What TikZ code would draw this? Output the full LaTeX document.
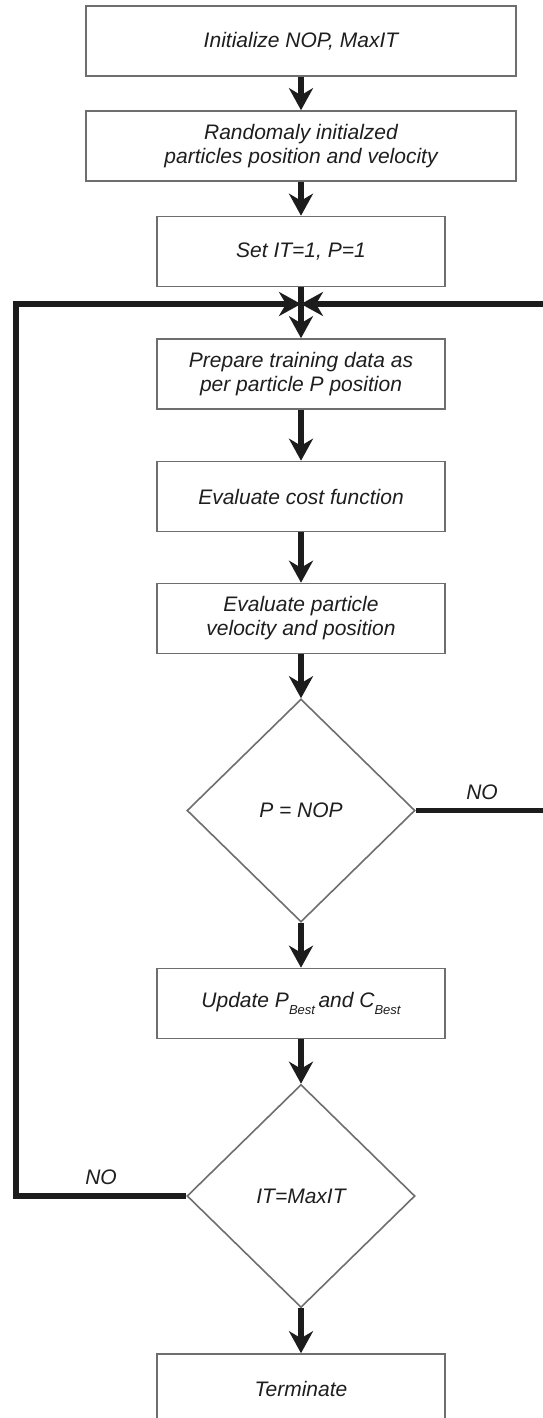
\documentclass[tikz,border=0pt]{standalone}
\usepackage{fontspec}
\setmainfont{Liberation Sans}
\usetikzlibrary{arrows.meta,shapes.geometric}
\definecolor{txt}{HTML}{1E1E1E}
\definecolor{frame}{HTML}{6E6E6E}
\definecolor{flow}{HTML}{1C1C1C}
\tikzset{
  basebox/.style={draw=frame, line width=1.6pt, fill=white, minimum height=70pt,
    align=center, inner sep=0pt, text=txt, font=\fontsize{21}{24}\selectfont\itshape},
  widebox/.style={basebox, minimum width=430pt},
  narrowbox/.style={basebox, minimum width=288pt},
  decision/.style={diamond, draw=frame, line width=1.6pt, fill=white, inner sep=0pt,
    minimum width=228pt, minimum height=223pt, text=txt, font=\fontsize{21}{24}\selectfont\itshape},
  flowarrow/.style={draw=flow, line width=6pt, -{Stealth[length=22pt, width=24pt, inset=7pt]}},
  loopline/.style={draw=flow, line width=5.5pt},
  nolabel/.style={text=txt, font=\fontsize{21}{24}\selectfont\itshape, inner sep=0pt}
}
\begin{document}
\begin{tikzpicture}[x=1pt, y=-1pt]
\useasboundingbox (0,0) rectangle (543,1418);
\clip (0,0) rectangle (543,1418);
\node[widebox] (b1) at (301,41) {Initialize NOP, MaxIT};
\node[widebox] (b2) at (301,146) {Randomaly initialzed\\particles position and velocity};
\node[narrowbox] (b3) at (301,251.5) {Set IT=1, P=1};
\node[narrowbox] (b4) at (301,374) {Prepare training data as\\per particle P position};
\node[narrowbox] (b5) at (301,496.5) {Evaluate cost function};
\node[narrowbox] (b6) at (301,618.5) {Evaluate particle\\velocity and position};
\node[decision] (d1) at (301,810.5) {P = NOP};
\node[narrowbox] (b7) at (301,1003.5) {Update P{\fontsize{13}{13}\selectfont\raisebox{-7pt}{Best}}\,and C{\fontsize{13}{13}\selectfont\raisebox{-7pt}{Best}}};
\node[decision] (d2) at (301,1196) {IT=MaxIT};
\node[narrowbox] (b8) at (301,1389) {Terminate};
\node[nolabel] (no1) at (482,792) {NO};
\node[nolabel] (no2) at (101,1177) {NO};
\coordinate (J) at (301,304);
\coordinate (L1) at (16,1196);
\coordinate (L2) at (16,304);
\coordinate (R1) at (552,810.5);
\coordinate (R2) at (552,304);
\draw[flowarrow] (b1.south) -- (b2.north);
\draw[flowarrow] (b2.south) -- (b3.north);
\draw[flowarrow] (b3.south) -- (b4.north);
\draw[flowarrow] (b4.south) -- (b5.north);
\draw[flowarrow] (b5.south) -- (b6.north);
\draw[flowarrow] (b6.south) -- (d1.north);
\draw[flowarrow] (d1.south) -- (b7.north);
\draw[flowarrow] (b7.south) -- (d2.north);
\draw[flowarrow] (d2.south) -- (b8.north);
\draw[loopline, line join=miter] (d2.west) -- (L1) -- (L2) -- ([xshift=-14pt]J);
\draw[flowarrow, line width=5.5pt] ([xshift=-20pt]J) -- (J);
\draw[loopline, line join=miter] (d1.east) -- (R1) -- (R2) -- ([xshift=14pt]J);
\draw[flowarrow, line width=5.5pt] ([xshift=20pt]J) -- (J);
\end{tikzpicture}
\end{document}
